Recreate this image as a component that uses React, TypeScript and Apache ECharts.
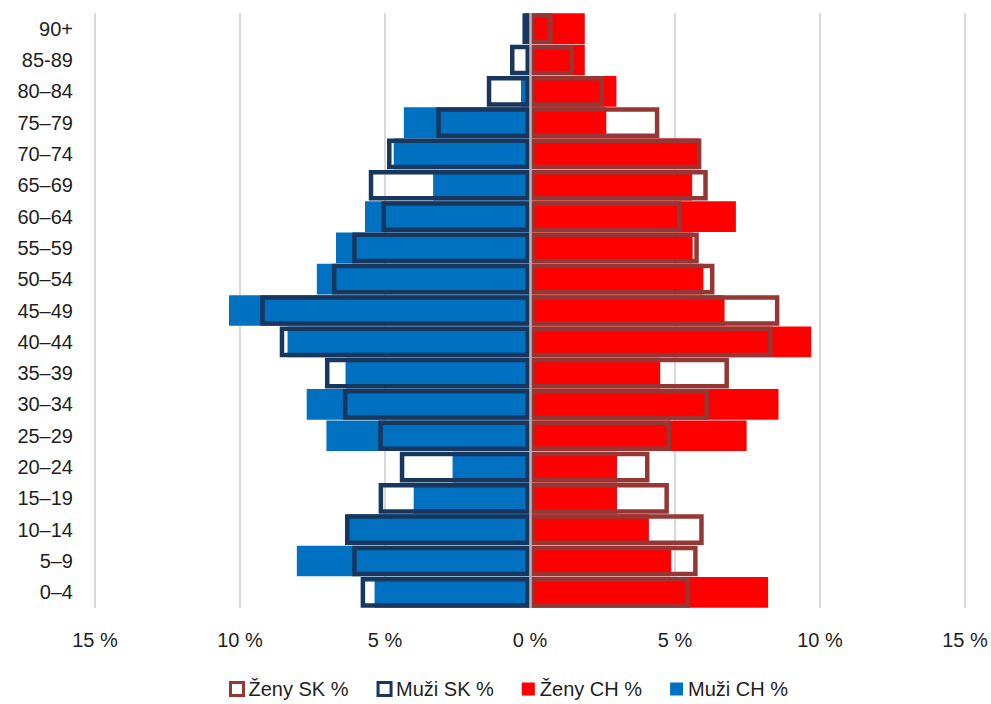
import React, { useEffect, useRef } from "react";
import * as echarts from "echarts";

const categories = ["0–4", "5–9", "10–14", "15–19", "20–24", "25–29", "30–34", "35–39", "40–44", "45–49", "50–54", "55–59", "60–64", "65–69", "70–74", "75–79", "80–84", "85-89", "90+"];

const zenySK = [5.52, 5.78, 5.99, 4.79, 4.12, 4.86, 6.17, 6.86, 8.36, 8.6, 6.36, 5.82, 5.22, 6.13, 5.91, 4.46, 2.55, 1.52, 0.78];
const muziSK = [5.84, 6.13, 6.38, 5.22, 4.49, 5.23, 6.45, 7.07, 8.63, 9.3, 6.83, 6.13, 5.12, 5.56, 4.93, 3.23, 1.49, 0.69, 0.26];
const zenyCH = [8.21, 4.87, 4.1, 3.0, 3.0, 7.47, 8.57, 4.49, 9.7, 6.71, 5.98, 5.61, 7.1, 5.59, 5.83, 2.63, 2.98, 1.89, 1.89];
const muziCH = [5.36, 8.04, 6.3, 4.01, 2.67, 7.02, 7.7, 6.36, 8.36, 10.38, 7.35, 6.69, 5.69, 3.34, 4.7, 4.35, 0.31, 0, 0.2];

const xTicks = [-15, -10, -5, 0, 5, 10, 15];

const FONT = "'Liberation Sans', Arial, sans-serif";
const TXT = "#1e1e1e";

export default function App() {
  const ref = useRef<HTMLDivElement>(null);
  useEffect(() => {
    if (!ref.current) return;
    const chart = echarts.init(ref.current, null, { renderer: "svg" });
    const neg = (a: number[]) => a.map((v) => -v);
    chart.setOption({
      animation: false,
      backgroundColor: "#ffffff",
      textStyle: { fontFamily: FONT },
      grid: { left: 95, right: 26, top: 13, bottom: 96, containLabel: false },
      legend: {
        left: 229,
        top: 679,
        padding: 0,
        itemWidth: 13,
        itemHeight: 13,
        itemGap: 28,
        icon: "rect",
        textStyle: { fontSize: 20, color: TXT, fontFamily: FONT },
        data: [
          { name: "Ženy SK %", itemStyle: { color: "#ffffff", borderColor: "#953735", borderWidth: 3 } },
          { name: "Muži SK %", itemStyle: { color: "#ffffff", borderColor: "#17375e", borderWidth: 3 } },
          { name: "Ženy CH %", itemStyle: { color: "#ff0000", borderWidth: 0 } },
          { name: "Muži CH %", itemStyle: { color: "#0070c0", borderWidth: 0 } },
        ],
      },
      xAxis: {
        type: "value",
        min: xTicks[0],
        max: xTicks[xTicks.length - 1],
        interval: 5,
        axisLine: { show: false },
        axisTick: { show: false },
        axisLabel: {
          fontSize: 20,
          color: TXT,
          margin: 22,
          fontFamily: FONT,
          formatter: (v: number) => Math.abs(v) + " %",
        },
        splitLine: { show: true, lineStyle: { color: "#d9d9d9", width: 2 } },
      },
      yAxis: {
        type: "category",
        data: categories,
        axisLine: { show: false },
        axisTick: { show: false },
        axisLabel: { fontSize: 20, color: TXT, margin: 22, fontFamily: FONT },
        splitLine: { show: false },
      },
      series: [
        {
          name: "Muži CH %",
          type: "bar",
          data: neg(muziCH),
          barCategoryGap: "2%",
          barGap: "-100%",
          itemStyle: { color: "#0070c0" },
          z: 2,
        },
        {
          name: "Ženy CH %",
          type: "bar",
          data: zenyCH,
          barCategoryGap: "2%",
          barGap: "-100%",
          itemStyle: { color: "#ff0000" },
          z: 2,
        },
        {
          name: "Muži SK %",
          type: "bar",
          data: neg(muziSK),
          barCategoryGap: "2%",
          barGap: "-100%",
          itemStyle: { color: "rgba(0,0,0,0)", borderColor: "#17375e", borderWidth: 4.5 },
          z: 3,
        },
        {
          name: "Ženy SK %",
          type: "bar",
          data: zenySK,
          barCategoryGap: "2%",
          barGap: "-100%",
          itemStyle: { color: "rgba(0,0,0,0)", borderColor: "#953735", borderWidth: 4.5 },
          z: 3,
          markLine: {
            silent: true,
            symbol: "none",
            label: { show: false },
            lineStyle: { color: "#bdb4b4", width: 2.5, type: "solid" },
            data: [{ xAxis: 0 }],
            z: 5,
          },
        },
      ],
    });
    return () => chart.dispose();
  }, []);
  return <div ref={ref} style={{ position: "fixed", left: 0, top: 0, width: 991, height: 704 }} />;
}
